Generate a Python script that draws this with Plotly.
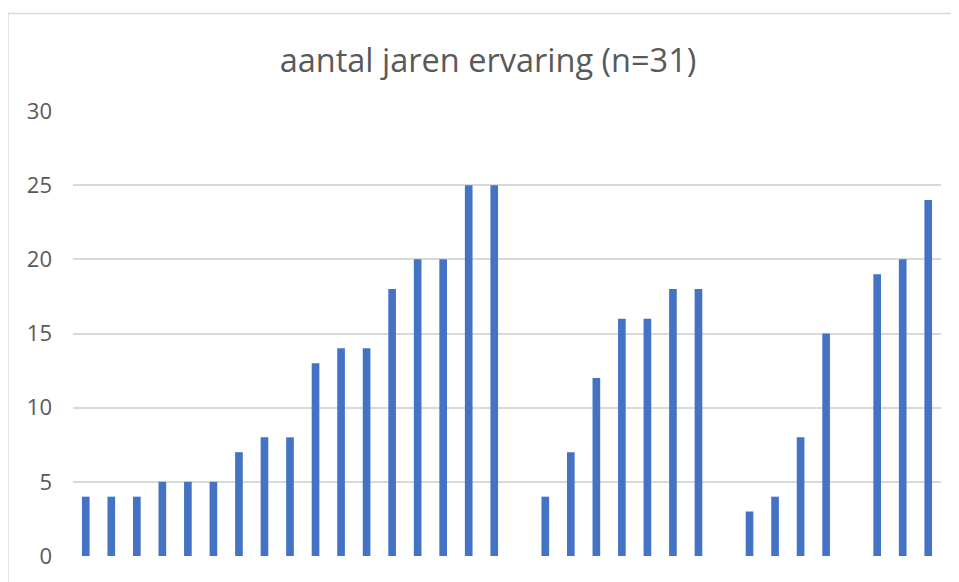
import plotly.graph_objects as go

positions = list(range(34))
values = [4, 4, 4, 5, 5, 5, 7, 8, 8, 13, 14, 14, 18, 20, 20, 25, 25, None,
          4, 7, 12, 16, 16, 18, 18, None,
          3, 4, 8, 15, None,
          19, 20, 24]
y_ticks = [0, 5, 10, 15, 20, 25, 30]
title_text = "aantal jaren ervaring (n=31)"

# page has an 8px body margin: figure drawn at (8, 8)
W, H = 951, 574
L, R, T, B = 65, 18, 103, 19
pw, ph = W - L - R, H - T - B

fig = go.Figure(go.Bar(x=positions, y=values, width=0.3,
                       marker=dict(color="#4472C4", line=dict(width=0))))

fig.update_layout(
    width=W, height=H,
    margin=dict(l=L, r=R, t=T, b=B),
    paper_bgcolor="white", plot_bgcolor="white",
    showlegend=False,
    title=dict(text=title_text, x=480/W, xanchor="center", xref="container",
               y=1-53/H, yanchor="middle", yref="container",
               font=dict(family="Open Sans", size=32.5, color="#595959")),
    xaxis=dict(range=[-0.5, 33.5], showticklabels=False, showgrid=False,
               zeroline=False, showline=False, ticks=""),
    yaxis=dict(range=[0, 30], tickvals=y_ticks, showgrid=True,
               gridcolor="#d9d9d9", gridwidth=1.5, zeroline=False,
               showline=False, ticks="", ticklabelstandoff=20,
               tickfont=dict(family="Open Sans", size=22, color="#595959")),
    shapes=[dict(type="rect", xref="paper", yref="paper",
                 x0=-L/pw, x1=1.2, y0=-0.3, y1=(ph + T - 4)/ph,
                 line=dict(color="#d9d9d9", width=1.5), fillcolor="rgba(0,0,0,0)",
                 layer="below")],
)

fig.write_html("out.html")
